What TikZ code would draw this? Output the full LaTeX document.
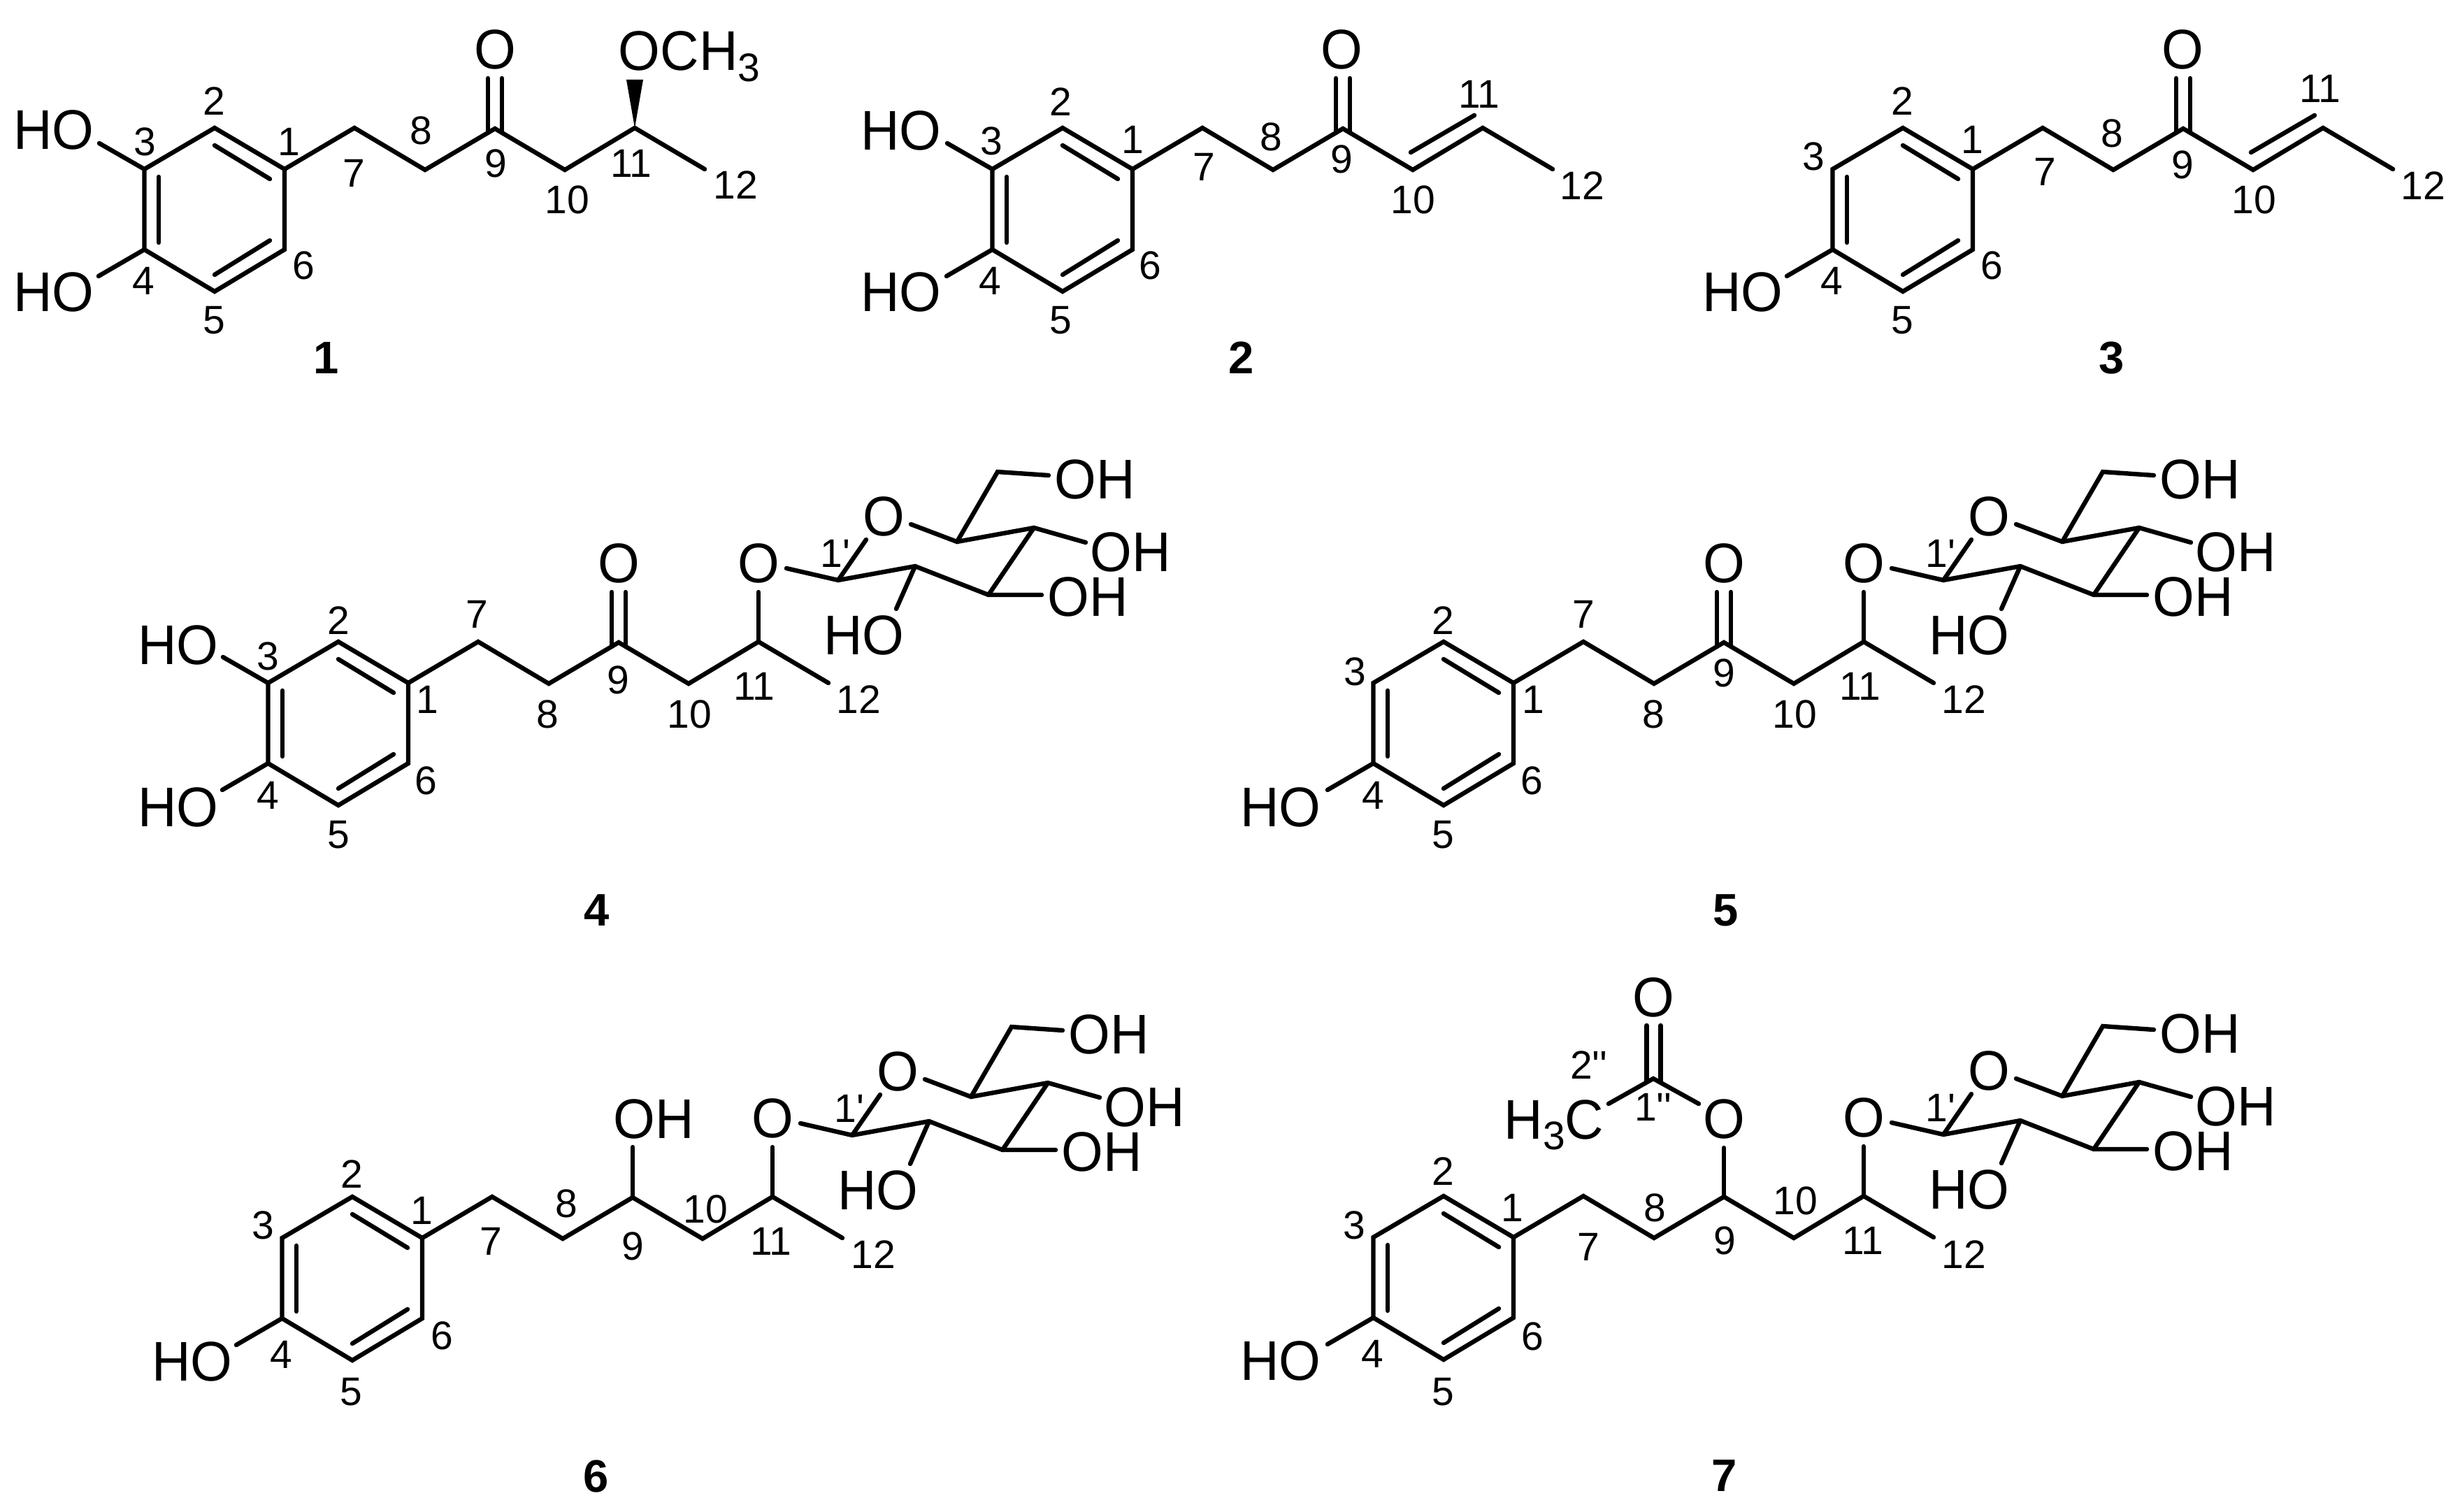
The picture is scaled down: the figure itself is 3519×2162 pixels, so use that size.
\documentclass[tikz,border=0pt]{standalone}
\usepackage{fontspec}
\newfontfamily\molf[FakeStretch=0.96]{Liberation Sans}
\newfontfamily\digf{Liberation Sans}
\newcounter{lab}
\tikzset{
  x=0.25pt,y=-0.25pt,
  bond/.style={line width=1.6pt,line join=miter,line cap=round},
  atomtxt/.style={inner sep=0pt,font=\molf\fontsize{20pt}{22pt}\selectfont},
  numtxt/.style={inner sep=0pt,font=\digf\fontsize{14.25pt}{16pt}\selectfont},
  idtxt/.style={inner sep=0pt,font=\digf\bfseries\fontsize{16.3pt}{18pt}\selectfont},
}
\newcommand\AT[3]{\stepcounter{lab}\node[atomtxt] (t\arabic{lab}) at (#1,#2) {#3};}
\newcommand\NT[3]{\stepcounter{lab}\node[numtxt] (t\arabic{lab}) at (#1,#2) {#3};}
\newcommand\ID[3]{\stepcounter{lab}\node[idtxt] (t\arabic{lab}) at (#1,#2) {#3};}
\newcommand\lowthree{\raisebox{-0.19em}{\digf\fontsize{14.25pt}{16pt}\selectfont 3}}
% ring + chain, origin at ring atom 1
\newcommand\Frame[2]{%
  \begin{scope}[shift={(#1,#2)}]
  \coordinate (C1) at (0,0);
  \coordinate (C2) at (-100,-59);
  \coordinate (C3) at (-200.5,0);
  \coordinate (C4) at (-200.5,115);
  \coordinate (C5) at (-100,175);
  \coordinate (C6) at (0,115);
  \coordinate (C7) at (100,-59);
  \coordinate (C8) at (201,1);
  \coordinate (C9) at (301,-58);
  \coordinate (C10) at (401,1);
  \coordinate (C11) at (501,-59);
  \coordinate (C12) at (601,0);
  \draw[bond] (C1) -- (C2) -- (C3) -- (C4) -- (C5) -- (C6) -- cycle;
  \draw[bond] (-100,-34) -- (-21,14);
  \draw[bond] (-180,11) -- (-180,105);
  \draw[bond] (-100,151) -- (-21,102);
  \draw[bond] (C1) -- (C7) -- (C8) -- (C9) -- (C10) -- (C11) -- (C12);
  \end{scope}}
\newcommand\UpperOH[2]{\begin{scope}[shift={(#1,#2)}]\coordinate (a) at (-265,-37);\draw[bond] (C3) -- (a);\end{scope}}
\newcommand\LowerOH[2]{\begin{scope}[shift={(#1,#2)}]\coordinate (a) at (-266,153);\draw[bond] (C4) -- (a);\end{scope}}
\newcommand\Keto[2]{\begin{scope}[shift={(#1,#2)}]
  \draw[bond] (291,-130) -- (291,-52);
  \draw[bond] (311,-130) -- (311,-52);
  \end{scope}}
\newcommand\Ene[2]{\begin{scope}[shift={(#1,#2)}]\draw[bond] (398,-24) -- (489,-77);\end{scope}}
% glucose unit, origin at atom 11
\newcommand\Sugar[2]{%
  \begin{scope}[shift={(#1,#2)}]
  \coordinate (G0) at (0,0);
  \coordinate (Ga) at (0,-71);
  \coordinate (Gb) at (40,-105);
  \coordinate (G1) at (114,-88);
  \coordinate (G2) at (224,-108);
  \coordinate (G3) at (329,-67);
  \coordinate (G4) at (394,-163);
  \coordinate (G5) at (284,-143);
  \coordinate (Gc) at (218,-168);
  \coordinate (Gd) at (154,-146);
  \coordinate (G6) at (342,-243);
  \coordinate (Ge) at (415,-238);
  \coordinate (Gf) at (468,-142);
  \coordinate (Gg) at (405,-67);
  \coordinate (Gh) at (197,-47);
  \draw[bond] (G0) -- (Ga);
  \draw[bond] (Gb) -- (G1) -- (G2) -- (G3) -- (Gg);
  \draw[bond] (Gc) -- (G5) -- (G4) -- (Gf);
  \draw[bond] (G1) -- (Gd);
  \draw[bond] (G3) -- (G4);
  \draw[bond] (G2) -- (Gh);
  \draw[bond] (G5) -- (G6) -- (Ge);
  \AT{0}{-112}{O}
  \AT{179}{-179}{O}
  \AT{481}{-232}{OH}
  \AT{532}{-128}{OH}
  \AT{471}{-64}{OH}
  \AT{151}{-9}{HO}
  \NT{110}{-126}{1'}
  \end{scope}}
\begin{document}
\begin{tikzpicture}
\useasboundingbox (0,0) rectangle (3519,2162);
% ---------- 1
\Frame{407}{242}\UpperOH{407}{242}\LowerOH{407}{242}\Keto{407}{242}
\fill (C11) -- (896,114) -- (920,114) -- cycle;
\AT{77}{186}{HO}\AT{77}{418}{HO}\AT{708}{71}{O}
\stepcounter{lab}\node[atomtxt,anchor=base west] (t\arabic{lab}) at (884,101) {OCH\lowthree};
\NT{306}{145}{2}\NT{207}{203}{3}\NT{413}{203}{1}\NT{506}{248}{7}\NT{602}{187}{8}\NT{709}{234}{9}
\NT{811}{286}{10}\NT{903}{234}{11}\NT{1052}{265}{12}\NT{434}{380}{6}\NT{205}{402}{4}\NT{306}{458}{5}
\ID{467}{512}{1}
% ---------- 2
\Frame{1620}{242}\UpperOH{1620}{242}\LowerOH{1620}{242}\Keto{1620}{242}\Ene{1620}{242}
\AT{1289}{187}{HO}\AT{1289}{418}{HO}\AT{1919}{71}{O}
\NT{1517}{146}{2}\NT{1418}{202}{3}\NT{1620}{200}{1}\NT{1722}{239}{7}\NT{1818}{196}{8}\NT{1919}{228}{9}
\NT{2021}{286}{10}\NT{2116}{135}{11}\NT{2263}{266}{12}\NT{1645}{380}{6}\NT{1416}{402}{4}\NT{1517}{458}{5}
\ID{1776}{512}{2}
% ---------- 3
\Frame{2822}{242}\LowerOH{2822}{242}\Keto{2822}{242}\Ene{2822}{242}
\AT{2493}{418}{HO}\AT{3122}{71}{O}
\NT{2721}{145}{2}\NT{2594}{224}{3}\NT{2821}{200}{1}\NT{2925}{246}{7}\NT{3021}{191}{8}\NT{3122}{236}{9}
\NT{3224}{286}{10}\NT{3319}{127}{11}\NT{3466}{266}{12}\NT{2849}{380}{6}\NT{2620}{402}{4}\NT{2721}{458}{5}
\ID{3021}{512}{3}
% ---------- 4
\Frame{584}{977}\UpperOH{584}{977}\LowerOH{584}{977}\Keto{584}{977}\Sugar{1085}{918}
\AT{255}{923}{HO}\AT{255}{1155}{HO}\AT{885}{806}{O}
\NT{484}{888}{2}\NT{383}{939}{3}\NT{611}{1001}{1}\NT{682}{879}{7}\NT{783}{1022}{8}\NT{884}{973}{9}
\NT{986}{1022}{10}\NT{1079}{982}{11}\NT{1228}{1001}{12}\NT{609}{1117}{6}\NT{383}{1138}{4}\NT{484}{1194}{5}
\ID{854}{1302}{4}
% ---------- 5
\Frame{2165}{977}\LowerOH{2165}{977}\Keto{2165}{977}\Sugar{2666}{918}
\AT{1832}{1155}{HO}\AT{2466}{806}{O}
\NT{2064}{888}{2}\NT{1938}{961}{3}\NT{2193}{1001}{1}\NT{2265}{879}{7}\NT{2365}{1022}{8}\NT{2466}{963}{9}
\NT{2567}{1022}{10}\NT{2661}{982}{11}\NT{2809}{1001}{12}\NT{2191}{1117}{6}\NT{1964}{1138}{4}\NT{2064}{1194}{5}
\ID{2469}{1302}{5}
% ---------- 6
\Frame{604}{1771}\LowerOH{604}{1771}\Sugar{1105}{1712}
\coordinate (p6) at (905,1641);\draw[bond] (C9) -- (p6);
\AT{935}{1601}{OH}\AT{275}{1948}{HO}
\NT{503}{1680}{2}\NT{376}{1753}{3}\NT{603}{1732}{1}\NT{702}{1776}{7}\NT{810}{1722}{8}\NT{905}{1783}{9}
\NT{1009}{1730}{10}\NT{1103}{1776}{11}\NT{1249}{1795}{12}\NT{632}{1911}{6}\NT{402}{1938}{4}\NT{502}{1991}{5}
\ID{853}{2112}{6}
% ---------- 7
\Frame{2165}{1770}\LowerOH{2165}{1770}\Sugar{2666}{1711}
\coordinate (p7) at (2466,1642);\draw[bond] (C9) -- (p7);
\coordinate (A1) at (2365,1543);\coordinate (Ao) at (2430,1579);\coordinate (Am) at (2301,1579);
\draw[bond] (Am) -- (A1) -- (Ao);
\draw[bond] (2355.5,1467) -- (2355.5,1547);
\draw[bond] (2375.5,1467) -- (2375.5,1547);
\AT{2466}{1601}{O}\AT{2365}{1427}{O}\AT{1832}{1947}{HO}
\stepcounter{lab}\node[atomtxt,anchor=base west] (t\arabic{lab}) at (2151,1629) {H\lowthree C};
\NT{2273}{1524}{2''}\NT{2365}{1584}{1''}
\NT{2064}{1676}{2}\NT{1937}{1753}{3}\NT{2163}{1728}{1}\NT{2272}{1784}{7}\NT{2367}{1728}{8}\NT{2467}{1775}{9}
\NT{2568}{1718}{10}\NT{2665}{1775}{11}\NT{2809}{1795}{12}\NT{2192}{1912}{6}\NT{1963}{1937}{4}\NT{2064}{1991}{5}
\ID{2467}{2111}{7}
\end{tikzpicture}
\end{document}
